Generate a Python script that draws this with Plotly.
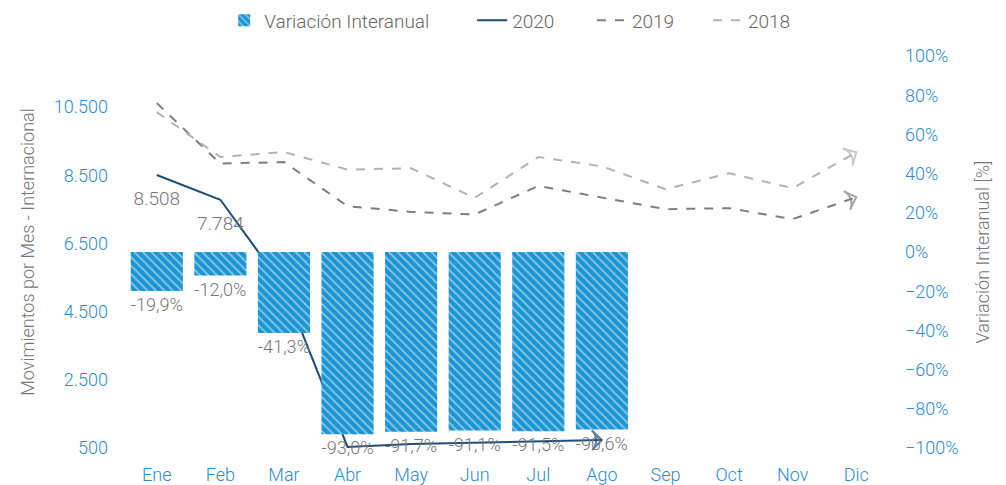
import plotly.graph_objects as go

months = ["Ene", "Feb", "Mar", "Abr", "May", "Jun", "Jul", "Ago", "Sep", "Oct", "Nov", "Dic"]
v2020 = [8508, 7784, 5215, 532, 616, 654, 696, 737]
v2019 = [10617, 8844, 8890, 7594, 7427, 7351, 8188, 7843, 7506, 7535, 7214, 7857]
v2018 = [10354, 9037, 9183, 8668, 8706, 7837, 9037, 8765, 8091, 8560, 8121, 9174]
var_pct = [-0.199, -0.120, -0.413, -0.930, -0.917, -0.911, -0.915, -0.906]
labels2020 = ["8.508", "7.784", "5.215"]

BLUE_TXT = "#2E8BCF"
BAR = "#1B95D3"
NAVY = "#1F4E79"
G19 = "#7F7F7F"
G18 = "#B3B3B3"
GRAYTXT = "#777777"
FONT = "Roboto"
TICK = 18
LBL = 19

fig = go.Figure()

fig.add_trace(go.Bar(
    x=months[:len(var_pct)], y=var_pct, yaxis="y2", name="Variación Interanual",
    legend="legend",
    width=0.82,
    marker=dict(color=BAR, line=dict(width=0),
                pattern=dict(shape="\\", fgcolor="white", size=6, solidity=0.3, fillmode="overlay")),
    texttemplate="%{y:.1%}", textposition="outside",
    textfont=dict(color=GRAYTXT, size=LBL, family=FONT, weight=300),
    cliponaxis=False,
))

def line_with_arrow(yvals, name, color, dash, width, leg):
    xs = months[:len(yvals)]
    fig.add_trace(go.Scatter(
        x=xs, y=yvals, name=name, mode="lines", legend=leg,
        line=dict(color=color, dash=dash, width=width),
    ))
    fig.add_trace(go.Scatter(
        x=xs[-2:], y=yvals[-2:], mode="markers", showlegend=False,
        marker=dict(symbol="arrow-wide-open", size=[0, 14], angleref="previous",
                    color=color, line=dict(color=color, width=width)),
        hoverinfo="skip", cliponaxis=False,
    ))

line_with_arrow(v2020, "2020", NAVY, "solid", 2, "legend2")
line_with_arrow(v2019, "2019", G19, "dash", 2, "legend3")
line_with_arrow(v2018, "2018", G18, "dash", 2, "legend4")

fig.add_trace(go.Scatter(
    x=months[:len(labels2020)], y=v2020[:len(labels2020)], mode="markers+text",
    text=labels2020, textposition="bottom center", showlegend=False,
    marker=dict(size=24, color="rgba(0,0,0,0)"),
    textfont=dict(color=GRAYTXT, size=LBL, family=FONT, weight=300),
    hoverinfo="skip", cliponaxis=False,
))

def leg(x):
    return dict(orientation="h", x=x, xanchor="left", y=1.091, yanchor="middle",
                maxheight=120,
                font=dict(size=LBL, color="#666666", family=FONT, weight=300),
                bgcolor="rgba(0,0,0,0)")

fig.update_layout(
    width=1006, height=485,
    margin=dict(l=117, r=126, t=48, b=45, autoexpand=False),
    plot_bgcolor="white", paper_bgcolor="white",
    separators=",.",
    font=dict(family=FONT, size=TICK, color=GRAYTXT, weight=300),
    showlegend=True,
    legend=leg(0.130),
    legend2=leg(0.455),
    legend3=leg(0.612),
    legend4=leg(0.764),
    xaxis=dict(categoryorder="array", categoryarray=months, range=[-0.5, 11.5],
               showgrid=False, zeroline=False, showline=False,
               tickfont=dict(color=BLUE_TXT, size=TICK, family=FONT, weight=300),
               ticklabelstandoff=14),
    yaxis=dict(range=[500, 12000], tickvals=[500, 2500, 4500, 6500, 8500, 10500],
               tickformat=",d", showgrid=False, zeroline=False, showline=False,
               tickfont=dict(color=BLUE_TXT, size=TICK, family=FONT, weight=300),
               ticklabelstandoff=16,
               title=dict(text="Movimientos por Mes - Internacional", standoff=14,
                          font=dict(color=GRAYTXT, size=TICK, family=FONT, weight=300))),
    yaxis2=dict(range=[-1, 1], overlaying="y", side="right", dtick=0.2, tickformat=".0%",
                showgrid=False, zeroline=False, showline=False,
                tickfont=dict(color=BLUE_TXT, size=TICK, family=FONT, weight=300),
                ticklabelstandoff=16,
                title=dict(text="Variación Interanual [%]", standoff=18,
                           font=dict(color=GRAYTXT, size=TICK, family=FONT, weight=300))),
)

fig.write_html("out.html")
